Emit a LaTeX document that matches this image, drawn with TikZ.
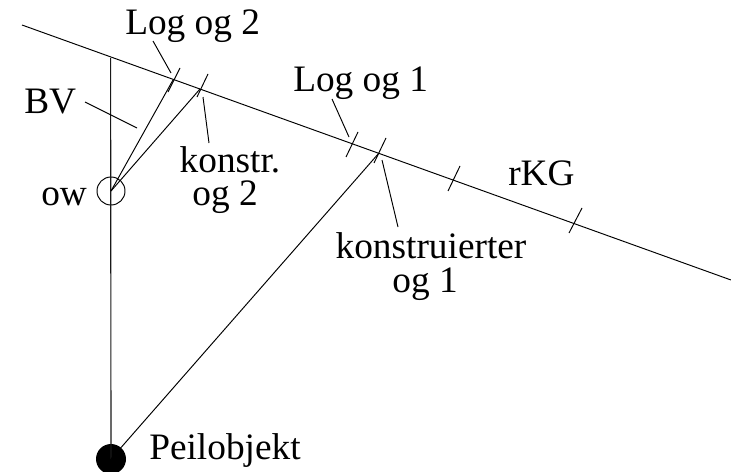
\documentclass[tikz,border=0pt]{standalone}
\usepackage{fontspec}
\setmainfont{Liberation Serif}
\tikzset{
  x=0.75pt,y=-0.75pt,
  ln/.style={draw=black,line width=0.72pt},
  lb/.style={font=\fontsize{28}{30.5}\selectfont,inner sep=0pt,align=center,text=black},
}
\begin{document}
\begin{tikzpicture}
\useasboundingbox (0,0) rectangle (731,471);
\coordinate (kl) at (22,25);
\coordinate (kr) at (731,280);
\draw[ln] (kl) -- (kr);
\coordinate (top) at (110.6,58);
\node[circle,fill=black,minimum size=30*0.75pt,inner sep=0pt] (obj) at (111,459) {};
\node[circle,draw=black,line width=0.72pt,minimum size=28*0.75pt,inner sep=0pt] (ow) at (111,191) {};
\draw[draw=black!90,line width=0.85pt] (top) -- (obj.center);
\coordinate (a1) at (173,80);\coordinate (a2) at (200,89);
\draw[ln] (ow.center) -- (a1);
\draw[ln] (ow.center) -- (a2);
\coordinate (b0) at (379,153);
\coordinate (b1) at (386,138);
\coordinate (b2) at (374,163);
\draw[ln] (obj.center) -- (b0);
\draw[ln] (b1) -- (b2);
\coordinate (f1) at (180,68);\coordinate (f2) at (168,92);
\draw[ln] (f1) -- (f2);
\coordinate (g1) at (208,74);\coordinate (g2) at (197,97);
\draw[ln] (g1) -- (g2);
\coordinate (c1) at (358,132);\coordinate (c2) at (346,157);
\draw[ln] (c1) -- (c2);
\coordinate (d1) at (460,166);\coordinate (d2) at (448,191);
\draw[ln] (d1) -- (d2);
\coordinate (e1) at (582,208);\coordinate (e2) at (569,233);
\draw[ln] (e1) -- (e2);
\node[lb,anchor=base west] (l2) at (125,34) {Log og 2};
\node[lb,anchor=base west] (l1) at (293,91) {Log og 1};
\node[lb,anchor=base west] (bv) at (24,113) {BV};
\node[lb,anchor=base] (k2) at (230,172) {konstr.};
\node[lb,anchor=base] (k2b) at (225,205) {og 2};
\node[lb,anchor=base] (k1) at (431,258) {konstruierter};
\node[lb,anchor=base] (k1b) at (425,292) {og 1};
\node[lb,anchor=base west] (ow2) at (41,205) {ow};
\node[lb,anchor=base west] (rkg) at (508,185) {rKG};
\node[lb,anchor=base west] (po) at (149,459) {Peilobjekt};
\coordinate (t1) at (153,41);\coordinate (t1e) at (171,73);
\draw[ln] (t1) -- (t1e);
\coordinate (t2) at (332,99);\coordinate (t2e) at (349,137);
\draw[ln] (t2) -- (t2e);
\coordinate (t3) at (85,102);\coordinate (t3e) at (137,128);
\draw[ln] (t3) -- (t3e);
\coordinate (t4) at (209,143);\coordinate (t4e) at (203,97);
\draw[ln] (t4) -- (t4e);
\coordinate (t5) at (398,227);\coordinate (t5e) at (382,160);
\draw[ln] (t5) -- (t5e);
\end{tikzpicture}
\end{document}
